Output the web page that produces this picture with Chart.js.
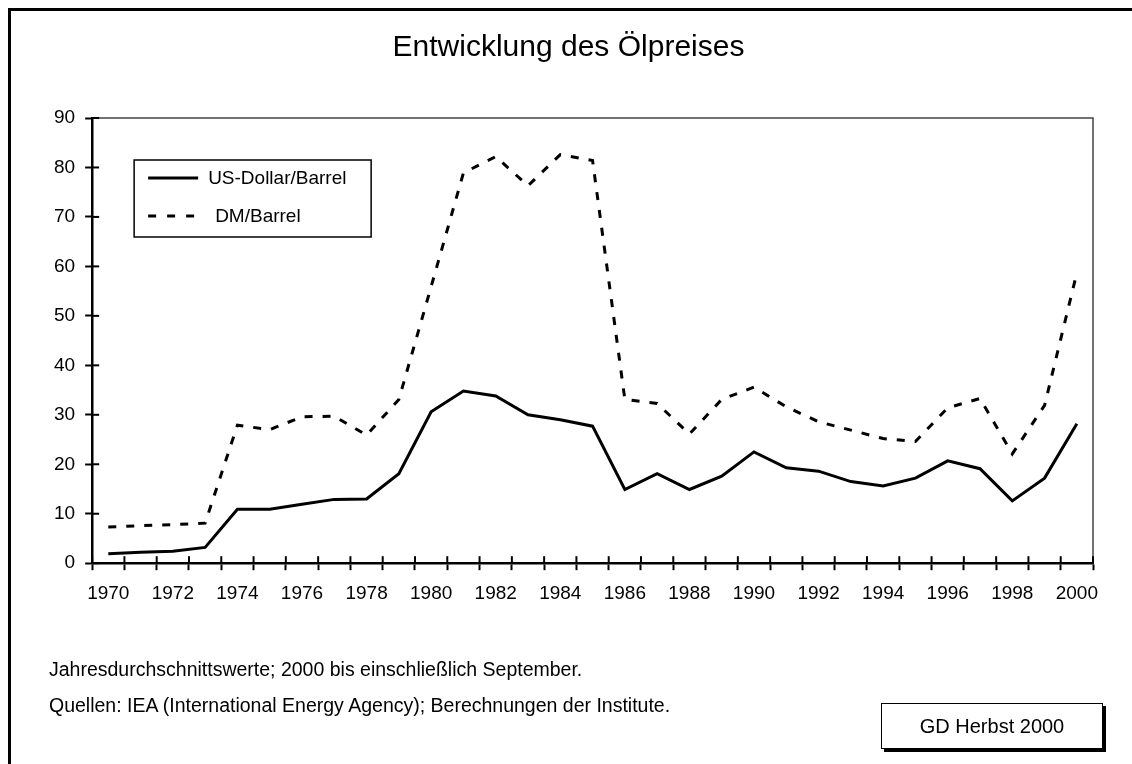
<!DOCTYPE html>
<html>
<head>
<meta charset="utf-8">
<script src="https://cdn.jsdelivr.net/npm/chart.js@4"></script>
<style>
  body { margin: 0; background: #fff; font-family: "Liberation Sans", Arial, sans-serif; }
  #wrap { position: relative; width: 1132px; height: 764px; overflow: hidden; }
  #frame { position: absolute; left: 8px; top: 8px; width: 1200px; height: 800px;
           border-top: 3px solid #000; border-left: 3px solid #000; }
  canvas { position: absolute; left: 0; top: 0; }
  .note { position: absolute; left: 49px; font-size: 19.5px; line-height: 19.5px; color: #000; white-space: nowrap; }
  #stamp { position: absolute; left: 881px; top: 703px; width: 220px; height: 44px;
           border: 1px solid #000; box-shadow: 3px 3px 0 #000; background: #fff;
           display: flex; align-items: center; justify-content: center; font-size: 20px; }
</style>
</head>
<body>
<div id="wrap">
  <div id="frame"></div>
  <canvas id="oilChart" width="1132" height="764"></canvas>
  <div class="note" style="top:660px">Jahresdurchschnittswerte; 2000 bis einschließlich September.</div>
  <div class="note" style="top:696px">Quellen: IEA (International Energy Agency); Berechnungen der Institute.</div>
  <div id="stamp">GD Herbst 2000</div>
</div>
<script>
const years = ['1970', '1971', '1972', '1973', '1974', '1975', '1976', '1977', '1978', '1979',
               '1980', '1981', '1982', '1983', '1984', '1985', '1986', '1987', '1988', '1989',
               '1990', '1991', '1992', '1993', '1994', '1995', '1996', '1997', '1998', '1999', '2000'];

const usdPerBarrel = [1.9, 2.2, 2.4, 3.2, 10.9, 10.9, 11.9, 12.9, 13.0, 18.1,
                      30.6, 34.8, 33.8, 30.0, 29.0, 27.7, 14.9, 18.1, 14.9, 17.6,
                      22.5, 19.3, 18.6, 16.5, 15.6, 17.2, 20.7, 19.1, 12.6, 17.2, 28.2];

const dmPerBarrel = [7.3, 7.6, 7.8, 8.1, 27.9, 27.0, 29.6, 29.7, 25.9, 33.1,
                     55.9, 78.9, 82.2, 76.3, 82.6, 81.4, 33.1, 32.3, 26.1, 33.1,
                     35.6, 31.6, 28.6, 26.9, 25.2, 24.6, 31.4, 33.3, 22.1, 31.9, 58.7];

const yMin = 0, yMax = 90, yStep = 10;

const FONT = '"Liberation Sans", Arial, sans-serif';
Chart.defaults.font.family = FONT;
Chart.defaults.color = '#000';

// frame on top/right, inner halves of the tick marks, legend box
const extras = {
    id: 'extras',
    beforeDatasetsDraw(chart) {
        const { ctx, chartArea: a } = chart;
        ctx.save();
        ctx.strokeStyle = '#444';
        ctx.lineWidth = 1.5;
        ctx.beginPath();
        ctx.moveTo(a.left, a.top);
        ctx.lineTo(a.right, a.top);
        ctx.lineTo(a.right, a.bottom);
        ctx.stroke();

        ctx.strokeStyle = '#000';
        ctx.lineWidth = 2;
        const y = chart.scales.y, x = chart.scales.x;
        y.ticks.forEach((t, i) => {
            const py = y.getPixelForTick(i);
            ctx.beginPath();
            ctx.moveTo(a.left, py);
            ctx.lineTo(a.left + 7, py);
            ctx.stroke();
        });
        for (let i = 0; i <= years.length; i++) {
            const px = x.getPixelForValue(i - 0.5);
            ctx.beginPath();
            ctx.moveTo(px, a.bottom);
            ctx.lineTo(px, a.bottom - 7);
            ctx.stroke();
        }
        ctx.restore();
    },
    afterDatasetsDraw(chart) {
        const { ctx, chartArea: a } = chart;
        const bx = a.left + 42, by = a.top + 42, bw = 237, bh = 77;
        ctx.save();
        ctx.fillStyle = '#fff';
        ctx.fillRect(bx, by, bw, bh);
        ctx.strokeStyle = '#000';
        ctx.lineWidth = 1.5;
        ctx.strokeRect(bx, by, bw, bh);

        ctx.font = '19px ' + FONT;
        ctx.textBaseline = 'middle';
        ctx.fillStyle = '#000';
        const rows = [18, 56];
        const textX = [bx + 74, bx + 81];
        chart.data.datasets.forEach((ds, i) => {
            const ly = by + rows[i];
            ctx.lineWidth = ds.borderWidth;
            ctx.setLineDash(i === 0 ? [] : [8, 11]);
            ctx.beginPath();
            ctx.moveTo(bx + 14, ly);
            ctx.lineTo(bx + 64, ly);
            ctx.stroke();
            ctx.setLineDash([]);
            ctx.fillText(ds.label, textX[i], ly + 1);
        });
        ctx.restore();
    }
};

new Chart(document.getElementById('oilChart').getContext('2d'), {
    type: 'line',
    data: {
        labels: years,
        datasets: [{
            label: 'US-Dollar/Barrel',
            data: usdPerBarrel,
            borderColor: '#000',
            borderWidth: 3,
            pointRadius: 0,
            tension: 0,
            fill: false
        }, {
            label: 'DM/Barrel',
            data: dmPerBarrel,
            borderColor: '#000',
            borderWidth: 3,
            borderDash: [8, 10],
            pointRadius: 0,
            tension: 0,
            fill: false
        }]
    },
    options: {
        responsive: false,
        animation: false,
        devicePixelRatio: 1,
        layout: { padding: { left: 44, right: 39, top: 0, bottom: 147 } },
        plugins: {
            legend: { display: false },
            tooltip: { enabled: false },
            title: {
                display: true,
                text: 'Entwicklung des Ölpreises',
                color: '#000',
                font: { size: 30, weight: 'normal' },
                padding: { top: 30, bottom: 52 }
            }
        },
        scales: {
            x: {
                offset: true,
                grid: { display: true, offset: true, drawOnChartArea: false, drawTicks: true,
                        tickLength: 7, tickWidth: 2, tickColor: '#000' },
                border: { display: true, color: '#000', width: 2.5 },
                ticks: {
                    autoSkip: false,
                    maxRotation: 0,
                    padding: 12,
                    font: { size: 19 },
                    callback: function (val, i) { return i % 2 === 0 ? years[i] : ''; }
                }
            },
            y: {
                min: yMin,
                max: yMax,
                grid: { display: true, drawOnChartArea: false, drawTicks: true,
                        tickLength: 7, tickWidth: 2, tickColor: '#000' },
                border: { display: true, color: '#000', width: 2.5 },
                ticks: { stepSize: yStep, padding: 10, font: { size: 19 } }
            }
        }
    },
    plugins: [extras]
});
</script>
</body>
</html>
